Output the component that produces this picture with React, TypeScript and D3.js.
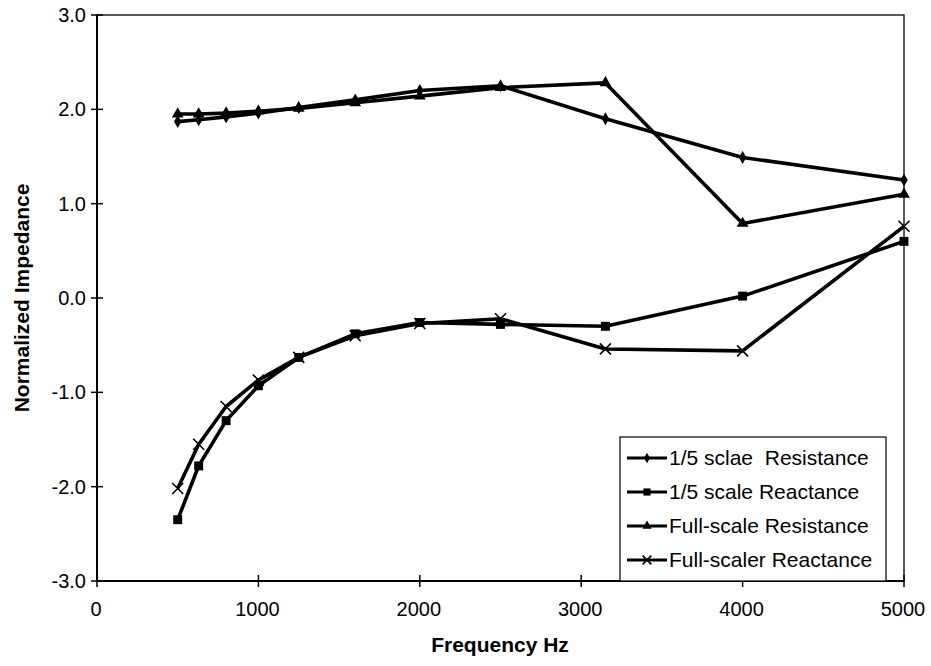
import React from "react";
import * as d3 from "d3";

// One-third-octave centre frequencies (Hz)
const frequencies = [500, 630, 800, 1000, 1250, 1600, 2000, 2500, 3150, 4000, 5000];

// Normalized impedance, 1/5-scale model
const resistanceFifth = [1.87, 1.89, 1.92, 1.96, 2.02, 2.1, 2.2, 2.25, 1.9, 1.49, 1.25];
const reactanceFifth = [-2.35, -1.78, -1.3, -0.93, -0.63, -0.38, -0.26, -0.28, -0.3, 0.02, 0.6];

// Normalized impedance, full-scale
const resistanceFull = [1.95, 1.95, 1.96, 1.98, 2.01, 2.07, 2.14, 2.23, 2.28, 0.79, 1.1];
const reactanceFull = [-2.02, -1.55, -1.15, -0.87, -0.63, -0.4, -0.27, -0.22, -0.54, -0.56, 0.76];

const seriesNames = [
  "1/5 sclae  Resistance",
  "1/5 scale Reactance",
  "Full-scale Resistance",
  "Full-scaler Reactance",
];

const xTicks = [0, 1000, 2000, 3000, 4000, 5000];
const yTicks = [3, 2, 1, 0, -1, -2, -3];

type MarkerKind = "diamond" | "square" | "triangle" | "cross";

const series: { name: string; values: number[]; marker: MarkerKind }[] = [
  { name: seriesNames[0], values: resistanceFifth, marker: "diamond" },
  { name: seriesNames[1], values: reactanceFifth, marker: "square" },
  { name: seriesNames[2], values: resistanceFull, marker: "triangle" },
  { name: seriesNames[3], values: reactanceFull, marker: "cross" },
];

const W = 931;
const H = 666;
const plot = { left: 97, right: 904, top: 15, bottom: 581 };
const font = "'Liberation Sans', Arial, Helvetica, sans-serif";

const x = d3.scaleLinear().domain([0, 5000]).range([plot.left, plot.right]);
const y = d3.scaleLinear().domain([-3, 3]).range([plot.bottom, plot.top]);

// one decimal, with a plain hyphen for negatives
const fmtY = (v: number) => d3.format(".1f")(v).replace("\u2212", "-");

function Marker({ kind, cx, cy, scale = 1 }: { kind: MarkerKind; cx: number; cy: number; scale?: number }) {
  if (kind === "cross") {
    const r = 5.5 * scale;
    return (
      <path
        d={`M${cx - r},${cy - r}L${cx + r},${cy + r}M${cx - r},${cy + r}L${cx + r},${cy - r}`}
        stroke="#000"
        strokeWidth={1.6}
        fill="none"
      />
    );
  }
  const sym =
    kind === "diamond"
      ? d3.symbol(d3.symbolDiamond, 48 * scale * scale)
      : kind === "square"
      ? d3.symbol(d3.symbolSquare, 80 * scale * scale)
      : d3.symbol(d3.symbolTriangle, 60 * scale * scale);
  return <path d={sym() || ""} transform={`translate(${cx},${cy})`} fill="#000" />;
}

export default function App() {
  const line = d3
    .line<number>()
    .x((_, i) => x(frequencies[i]))
    .y((v) => y(v));

  const legend = { left: 620, right: 886, top: 437, bottom: plot.bottom };
  const rowY = [458, 492, 526, 560];

  return (
    <svg width={W} height={H} style={{ position: "absolute", left: 0, top: 0, background: "#fff" }}>
      <rect x={0} y={0} width={W} height={H} fill="#fff" />

      {/* plot frame */}
      <rect
        x={plot.left}
        y={plot.top}
        width={plot.right - plot.left}
        height={plot.bottom - plot.top}
        fill="none"
        stroke="#000"
        strokeWidth={1.3}
      />
      <line x1={plot.left} x2={plot.left} y1={plot.top} y2={plot.bottom} stroke="#000" strokeWidth={2} />
      <line x1={plot.left} x2={plot.right} y1={plot.bottom} y2={plot.bottom} stroke="#000" strokeWidth={2} />

      {/* y axis ticks and labels */}
      {yTicks.map((t) => (
        <g key={`y${t}`}>
          <line x1={plot.left - 6} x2={plot.left + 6} y1={y(t)} y2={y(t)} stroke="#000" strokeWidth={1.5} />
          <text
            x={plot.left - 11}
            y={y(t)}
            dy="0.35em"
            textAnchor="end"
            fontFamily={font}
            fontSize={20}
            fill="#000"
          >
            {fmtY(t)}
          </text>
        </g>
      ))}

      {/* x axis ticks and labels */}
      {xTicks.map((t) => (
        <g key={`x${t}`}>
          <line x1={x(t)} x2={x(t)} y1={plot.bottom - 6} y2={plot.bottom + 6} stroke="#000" strokeWidth={1.5} />
          <text x={x(t) - 1} y={plot.bottom + 35} textAnchor="middle" fontFamily={font} fontSize={20} fill="#000">
            {t}
          </text>
        </g>
      ))}

      {/* axis titles */}
      <text x={500} y={652} textAnchor="middle" fontFamily={font} fontSize={21} fontWeight="bold" fill="#000">
        Frequency Hz
      </text>
      <text
        transform={`translate(29,${(plot.top + plot.bottom) / 2}) rotate(-90)`}
        textAnchor="middle"
        fontFamily={font}
        fontSize={21}
        fontWeight="bold"
        fill="#000"
      >
        Normalized Impedance
      </text>

      {/* data series */}
      {series.map((s) => (
        <g key={s.name}>
          <path d={line(s.values) || ""} fill="none" stroke="#000" strokeWidth={3.6} strokeLinejoin="round" />
          {s.values.map((v, i) => (
            <Marker key={i} kind={s.marker} cx={x(frequencies[i])} cy={y(v)} />
          ))}
        </g>
      ))}

      {/* legend */}
      <rect
        x={legend.left}
        y={legend.top}
        width={legend.right - legend.left}
        height={legend.bottom - legend.top}
        fill="#fff"
        stroke="#000"
        strokeWidth={1.2}
      />
      {series.map((s, i) => (
        <g key={`lg${i}`}>
          <line x1={627} x2={667} y1={rowY[i]} y2={rowY[i]} stroke="#000" strokeWidth={3} />
          <Marker kind={s.marker} cx={647} cy={rowY[i]} scale={0.8} />
          <text
            x={669}
            y={rowY[i]}
            dy="0.35em"
            fontFamily={font}
            fontSize={21}
            fill="#000"
            style={{ whiteSpace: "pre" }}
          >
            {s.name}
          </text>
        </g>
      ))}
    </svg>
  );
}
